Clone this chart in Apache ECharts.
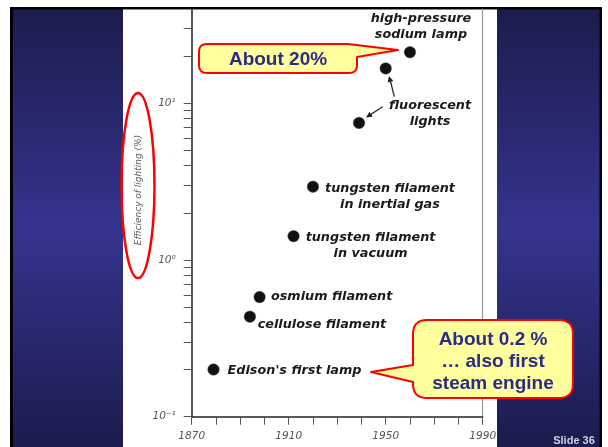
<!DOCTYPE html>
<html>
<head>
<meta charset="utf-8">
<script src="https://cdn.jsdelivr.net/npm/echarts@6/dist/echarts.min.js"></script>
<style>
html,body{margin:0;padding:0;background:#fff;}
#c{width:608px;height:447px;}
</style>
</head>
<body>
<div id="c"></div>
<script>
// ---- data ----
const years = [1879, 1894, 1898, 1912, 1920, 1939, 1950, 1960];
const efficiency = [0.2, 0.435, 0.58, 1.42, 2.94, 7.5, 16.7, 21.2];
const pointLabels = [
  "Edison's first lamp",
  "cellulose filament",
  "osmium filament",
  "tungsten filament\nin vacuum",
  "tungsten filament\nin inertial gas",
  "fluorescent\nlights",
  "",
  "high-pressure\nsodium lamp"
];
const xLabelYears = [1870, 1910, 1950, 1990];
const yLabelValues = [0.1, 1, 10];
const yTickValues = [0.1,0.2,0.3,0.4,0.5,0.6,0.7,0.8,0.9,1,2,3,4,5,6,7,8,9,10,20,30];
const yLabelText = {"0.1": "10\u207B\u00B9", "1": "10\u2070", "10": "10\u00B9"};
const axisTitle = "Efficiency of lighting (%)";
const callout1Text = "About 20%";
const callout2Text = "About 0.2 %\n\u2026 also first\nsteam engine";
const slideText = "Slide 36";

// ---- styles (label placement relative to each dot) ----
const labelOffsets = [[81,1],[72,7.6],[72,0],[77,9.7],[77,9.6],[71,-9],[0,0],[11,-26]];

// build polygon points from a simple path description: ['M',x,y], ['L',x,y], ['Q',cx,cy,x,y]
function pathPoints(cmds){
  const pts = [];
  let cur = null;
  cmds.forEach(c => {
    if (c[0] === 'M' || c[0] === 'L') { cur = [c[1], c[2]]; pts.push(cur); }
    else if (c[0] === 'Q') {
      const p0 = cur, cx = c[1], cy = c[2], x = c[3], y = c[4];
      for (let t = 1; t <= 8; t++) {
        const s = t / 8, u = 1 - s;
        pts.push([u*u*p0[0] + 2*u*s*cx + s*s*x, u*u*p0[1] + 2*u*s*cy + s*s*y]);
      }
      cur = [x, y];
    }
  });
  return pts;
}
const callout1Pts = pathPoints([
  ['M',207,44],['L',348,44],['L',398,50],['L',357,57],['L',357,65],['Q',357,73,349,73],
  ['L',207,73],['Q',199,73,199,65],['L',199,52],['Q',199,44,207,44]
]);
const callout2Pts = pathPoints([
  ['M',427,320],['L',559,320],['Q',573,320,573,334],['L',573,384],['Q',573,398,559,398],
  ['L',427,398],['Q',413,398,413,384],['L',413,382],['L',371,372],['L',413,365],['L',413,334],['Q',413,320,427,320]
]);

const chart = echarts.init(document.getElementById('c'), null, {renderer:'canvas'});

const handFont = {
  color:'#1a1a1a', fontFamily:'DejaVu Sans', fontStyle:'italic', fontWeight:'bold', fontSize:12.8
};

const seriesData = years.map((yr, i) => ({
  value: [yr, efficiency[i]],
  label: {
    show: pointLabels[i] !== "",
    position: 'inside',
    offset: labelOffsets[i],
    formatter: pointLabels[i],
    align: 'center',
    verticalAlign: 'middle',
    lineHeight: 16,
    ...handFont
  }
}));

const blueGrad = {
  type:'linear', x:0, y:0, x2:0, y2:1,
  colorStops:[
    {offset:0, color:'#1d1c4d'},
    {offset:0.5, color:'#34348f'},
    {offset:1, color:'#1c1b4d'}
  ]
};

const option = {
  backgroundColor:'#ffffff',
  animation:false,
  grid:{left:191.7, right:125.3, top:9, bottom:30.3},
  xAxis:{
    type:'value', min:1870, max:1990, interval:10,
    axisLine:{lineStyle:{color:'#222', width:1.5}},
    axisTick:{show:true, length:8, inside:false, lineStyle:{color:'#555', width:1}},
    axisLabel:{
      customValues:xLabelYears,
      formatter:(v)=> (xLabelYears.indexOf(v) >= 0 ? String(v) : ''),
      color:'#555', fontFamily:'DejaVu Sans', fontStyle:'italic', fontSize:10.5, margin:14
    },
    splitLine:{show:false}
  },
  yAxis:[{
    type:'log', logBase:10, min:0.1, max:40,
    axisLine:{show:true, lineStyle:{color:'#222', width:1.5}},
    axisTick:{show:true, customValues:yTickValues, length:8, lineStyle:{color:'#555', width:1}},
    axisLabel:{
      customValues:yLabelValues,
      formatter:(v)=> { const k = String(+(+v).toPrecision(3)); return yLabelText[k] || ''; },
      color:'#555', fontFamily:'DejaVu Sans', fontStyle:'italic', fontSize:10.5, margin:16
    },
    splitLine:{show:false}
  },{
    type:'log', logBase:10, min:0.1, max:40, position:'right',
    axisLine:{show:true, lineStyle:{color:'#999', width:1.2}},
    axisTick:{show:false}, axisLabel:{show:false}, splitLine:{show:false}
  }],
  series:[{
    type:'scatter',
    yAxisIndex:0,
    symbol:'circle',
    symbolSize:11.5,
    itemStyle:{color:'#111', borderColor:'#444', borderWidth:0.5, opacity:1},
    data:seriesData,
    z:5
  }],
  graphic:[
    // slide background
    {type:'rect', z:-20, silent:true, shape:{x:10,y:7,width:592,height:440}, style:{fill:'#000'}},
    {type:'rect', z:-19, silent:true, shape:{x:13,y:9.5,width:586.5,height:438}, style:{fill:blueGrad}},
    {type:'rect', z:-18, silent:true, shape:{x:123,y:9.5,width:374,height:438}, style:{fill:'#ffffff'}},
    // axis title
    {type:'text', z:10, x:139, y:190, rotation:Math.PI/2,
      style:{text:axisTitle, fill:'#555', fontFamily:'DejaVu Sans', fontStyle:'italic', fontSize:9, align:'center', verticalAlign:'middle'}},
    // red ellipse around axis title
    {type:'ellipse', z:20, shape:{cx:138, cy:185.5, rx:16.5, ry:92.5}, style:{fill:null, stroke:'#ff0000', lineWidth:2.5}},
    // fluorescent arrows
    {type:'line', z:10, shape:{x1:382.7,y1:106.7,x2:369,y2:115.5}, style:{stroke:'#222', lineWidth:1.3}},
    {type:'polygon', z:10, shape:{points:[[366,117.5],[372.7,116.8],[369.5,111.8]]}, style:{fill:'#222'}},
    {type:'line', z:10, shape:{x1:394.3,y1:96.7,x2:390.3,y2:80.5}, style:{stroke:'#222', lineWidth:1.3}},
    {type:'polygon', z:10, shape:{points:[[389,76],[393.4,81.0],[387.6,82.6]]}, style:{fill:'#222'}},
    // callout 1
    {type:'polygon', z:30, shape:{points:callout1Pts},
      style:{fill:'#ffff9e', stroke:'#ff0000', lineWidth:2, lineJoin:'round'}},
    {type:'text', z:31, x:278, y:60,
      style:{text:callout1Text, fill:'#2b2b88', fontFamily:'Liberation Sans', fontWeight:'bold', fontSize:19, align:'center', verticalAlign:'middle',
        textShadowColor:'#a8a8b8', textShadowOffsetX:1, textShadowOffsetY:1, textShadowBlur:0}},
    // callout 2
    {type:'polygon', z:30, shape:{points:callout2Pts},
      style:{fill:'#ffff9e', stroke:'#ff0000', lineWidth:2, lineJoin:'round'}},
    {type:'text', z:31, x:493, y:362,
      style:{text:callout2Text, fill:'#2b2b88', fontFamily:'Liberation Sans', fontWeight:'bold', fontSize:19, lineHeight:22, align:'center', verticalAlign:'middle',
        textShadowColor:'#a8a8b8', textShadowOffsetX:1, textShadowOffsetY:1, textShadowBlur:0}},
    // slide number
    {type:'text', z:10, x:574, y:441,
      style:{text:slideText, fill:'#cfd0ea', fontFamily:'Liberation Sans', fontWeight:'bold', fontSize:11, align:'center', verticalAlign:'middle'}}
  ]
};
chart.setOption(option);
</script>
</body>
</html>
